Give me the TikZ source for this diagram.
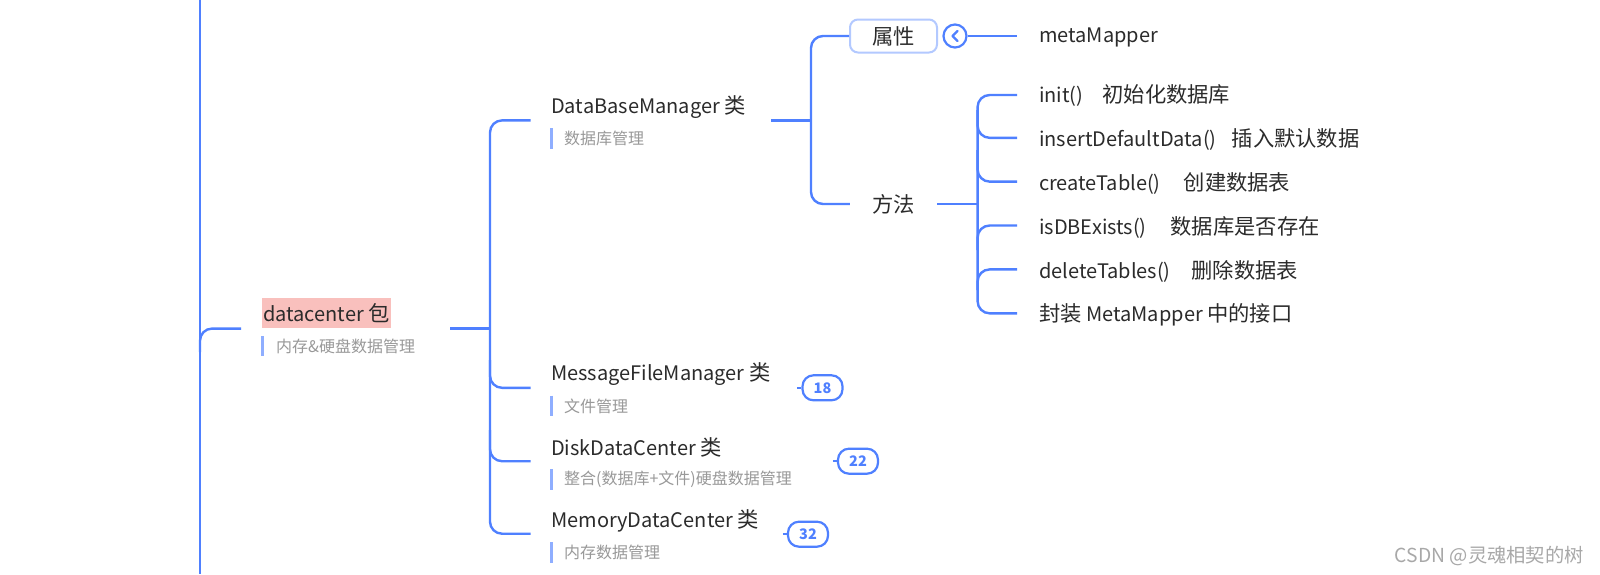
\documentclass[tikz,border=0pt]{standalone}
\usepackage{fontspec}
\setmainfont{Noto Sans CJK SC}
\definecolor{lb}{HTML}{4F80FF}
\definecolor{barc}{HTML}{8FAEFF}
\definecolor{boxc}{HTML}{B3C9FF}
\definecolor{pinkc}{HTML}{F9C0BD}
\definecolor{tc}{HTML}{2B2B2B}
\definecolor{subc}{HTML}{999999}
\definecolor{wmc}{HTML}{A8A8A8}
\newcommand\zh[1]{{\fontsize{21.3}{24}\selectfont #1}}
\begin{document}
\begin{tikzpicture}[x=1pt,y=-1pt,
  conn/.style={draw=lb, line width=2.4pt, rounded corners=12pt},
  title/.style={anchor=west, inner sep=0pt, font=\fontsize{20}{24}\selectfont, text=tc},
  subt/.style={anchor=west, inner sep=0pt, font=\fontsize{16}{18}\selectfont, text=subc},
  subbar/.style={draw=barc, line width=2.5pt},
  badge/.style={draw=lb, line width=2.2pt, rounded corners=11pt, minimum width=40pt, minimum height=25pt, inner sep=0pt, fill=white, text=lb, font=\fontsize{14.5}{16}\selectfont\bfseries},
  box/.style={draw=boxc, line width=2pt, rounded corners=8pt, minimum width=87pt, minimum height=33pt, inner sep=0pt, fill=white, text=tc, font=\fontsize{21.3}{24}\selectfont},
  plain/.style={minimum width=87pt, minimum height=33pt, inner sep=0pt, text=tc, font=\fontsize{21.3}{24}\selectfont}
]
\useasboundingbox (0,0) rectangle (1600,574);
\fill[white] (0,0) rectangle (1600,574);

% root spine and datacenter branch
\coordinate (rootT) at (200,0);
\coordinate (rootB) at (200,574);
\coordinate (rootJ) at (200,352);
\draw[conn] (rootT) -- (rootB);
\coordinate (dcL) at (241,328.6);
\draw[conn] (rootJ) |- (dcL);

\node[title, fill=pinkc, inner xsep=1.5pt, minimum height=30pt] (dc) at (261.5,313) {datacenter \zh{包}};
\draw[subbar] (262.5,336) -- (262.5,355.5);
\node[subt] (dcs) at (276,346) {内存\&硬盘数据管理};

% level 2 spine
\coordinate (dcR) at (450,328.6);
\coordinate (sp2) at (490,328.6);
\draw[conn] (dcR) -- (sp2);
\coordinate (dbmL) at (530.6,120.4);
\coordinate (mfmL) at (530.6,387.8);
\coordinate (ddcL) at (530.6,461.2);
\coordinate (mdcL) at (530.6,533.7);
\draw[conn] (dbmL) -| (490,533.7) -- (mdcL);
\draw[conn] (490,360) |- (mfmL);
\draw[conn] (490,430) |- (ddcL);

% DataBaseManager
\node[title] (dbm) at (551,107) {DataBaseManager \zh{类}};
\draw[subbar] (551.5,128) -- (551.5,148.5);
\node[subt] (dbms) at (564,138.5) {数据库管理};

% MessageFileManager
\node[title] (mfm) at (551,374) {MessageFileManager \zh{类}};
\draw[subbar] (551.5,395.5) -- (551.5,416);
\node[subt] (mfms) at (564,406) {文件管理};
\node[badge] (b18) at (822.5,387.8) {18};
\draw[lb, line width=2.2pt] ([xshift=-4pt]b18.west) -- (b18.west);

% DiskDataCenter
\node[title] (ddc) at (551,447.5) {DiskDataCenter \zh{类}};
\draw[subbar] (551.5,469) -- (551.5,489.5);
\node[subt] (ddcs) at (564,479.5) {整合(数据库+文件)硬盘数据管理};
\node[badge] (b22) at (858,461.2) {22};
\draw[lb, line width=2.2pt] ([xshift=-4pt]b22.west) -- (b22.west);

% MemoryDataCenter
\node[title] (mdc) at (551,520.5) {MemoryDataCenter \zh{类}};
\draw[subbar] (551.5,542) -- (551.5,562.5);
\node[subt] (mdcs) at (564,552.5) {内存数据管理};
\node[badge] (b32) at (808,534.2) {32};
\draw[lb, line width=2.2pt] ([xshift=-4pt]b32.west) -- (b32.west);

% DBM right side
\coordinate (dbmR) at (771.4,120.4);
\coordinate (sp3) at (811,120.4);
\draw[conn] (dbmR) -- (sp3);
\node[box] (attr) at (893.5,36) {属性};
\node[plain] (meth) at (893.5,204) {方法};
\draw[conn] (attr.west) -| (811,204) -- (meth.west);

% attribute
\node[circle, draw=lb, line width=2.2pt, minimum size=23pt, inner sep=0pt, fill=white] (col) at (955,36) {};
\draw[lb, line width=2.2pt, line cap=round, line join=round] (957.5,31) -- (952.5,36) -- (957.5,41);
\coordinate (mmL) at (1017,36);
\draw[conn] (col.east) -- (mmL);
\node[title] (mm) at (1039,37) {metaMapper};

% methods
\coordinate (sp4) at (977.6,204);
\draw[conn] (meth.east) -- (sp4);
\coordinate (m1L) at (1017,95);
\coordinate (m2L) at (1017,137.8);
\coordinate (m3L) at (1017,181.6);
\coordinate (m4L) at (1017,225.5);
\coordinate (m5L) at (1017,269.4);
\coordinate (m6L) at (1017,313.3);
\draw[conn] (m1L) -| (977.6,313.3) -- (m6L);
\draw[conn] (977.6,110) |- (m2L);
\draw[conn] (977.6,150) |- (m3L);
\draw[conn] (977.6,250) |- (m4L);
\draw[conn] (977.6,290) |- (m5L);

\node[title] (m1) at (1039,95.5) {init()\hspace{19pt}\zh{初始化数据库}};
\node[title] (m2) at (1039,139) {insertDefaultData()\hspace{15pt}\zh{插入默认数据}};
\node[title] (m3) at (1039,183) {createTable()\hspace{23pt}\zh{创建数据表}};
\node[title] (m4) at (1039,227) {isDBExists()\hspace{24pt}\zh{数据库是否存在}};
\node[title] (m5) at (1039,271) {deleteTables()\hspace{21pt}\zh{删除数据表}};
\node[title] (m6) at (1039,315) {\zh{封装} MetaMapper \zh{中的接口}};

% watermark
\node[anchor=east, inner sep=0pt, text=wmc, font=\fontsize{19.3}{22}\selectfont] (wm) at (1584,556) {CSDN @灵魂相契的树};
\end{tikzpicture}
\end{document}
